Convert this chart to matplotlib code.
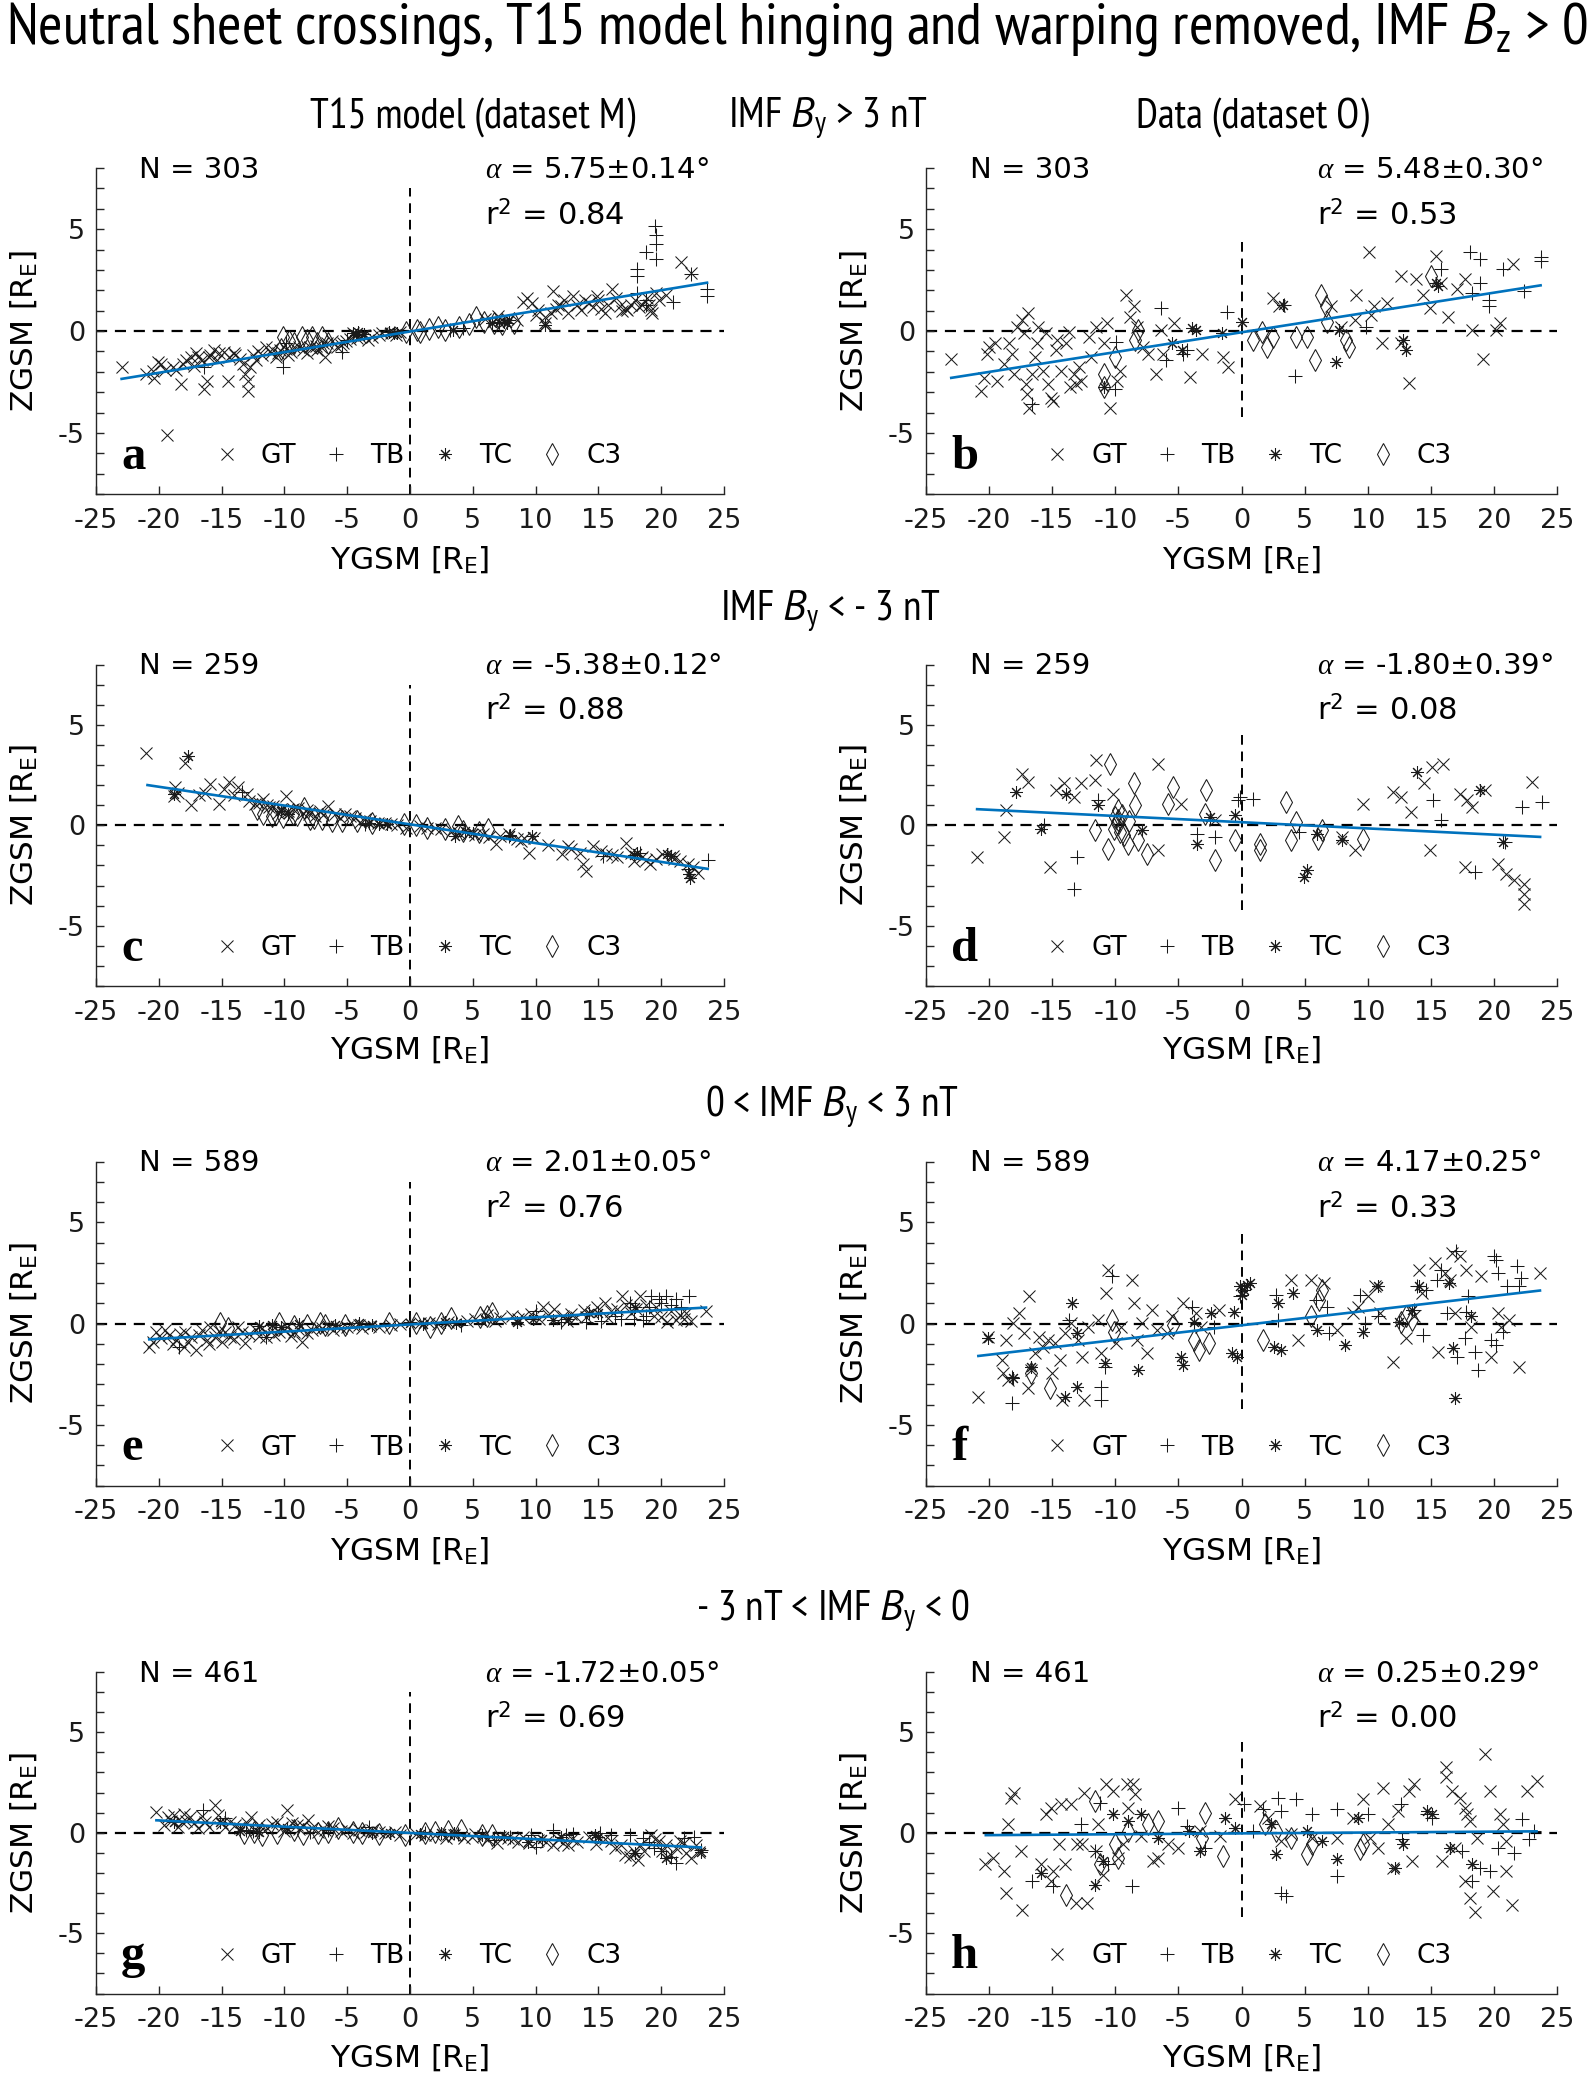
import matplotlib
matplotlib.use("Agg")
import matplotlib.pyplot as plt
from matplotlib import font_manager
from matplotlib.lines import Line2D

# puntos (YGSM, ZGSM), por panel y por mision
A_GT = [(-22.96, -1.77), (-21.0, -2.1), (-20.5, -1.94), (-20.4, -2.3), (-20.1, -1.5), (-19.8, -1.6),
        (-19.36, -5.09), (-19.5, -1.9), (-18.9, -1.77), (-18.6, -1.9), (-18.25, -2.6), (-18.05, -1.6),
        (-17.8, -1.4), (-17.44, -1.28), (-17.2, -1.7), (-17.0, -1.1), (-16.9, -1.3), (-16.6, -1.44),
        (-16.4, -2.85), (-16.2, -2.44), (-16.0, -1.28), (-15.9, -1.2), (-15.6, -0.95), (-15.4, -1.4),
        (-15.2, -1.1), (-14.8, -1.03), (-14.5, -2.47), (-14.4, -1.3), (-14.0, -1.1), (-13.9, -1.2),
        (-13.55, -1.36), (-13.3, -1.6), (-13.1, -2.1), (-12.9, -2.44), (-12.9, -2.94), (-12.7, -1.77),
        (-12.5, -1.2), (-12.3, -1.44), (-12.1, -1.0), (-11.8, -1.2), (-11.5, -0.78), (-11.1, -1.1),
        (-11.0, -0.9), (-10.7, -1.28), (-10.5, -1.1), (-10.35, -0.95), (-9.9, -0.9), (-9.7, -1.2),
        (-9.46, -1.03), (-9.2, -0.8), (-8.85, -0.78), (-8.5, -0.95), (-8.24, -1.1), (-8.0, -0.8),
        (-7.5, -0.75), (-7.4, -0.95), (-7.1, -0.8), (-6.9, -0.6), (-6.8, -1.28), (-6.6, -0.61),
        (-6.2, -0.5), (-5.8, -0.78), (-5.5, -0.7), (-5.3, -0.6), (-5.1, -0.5), (-4.8, -0.4),
        (-4.56, -0.12), (-4.2, -0.35), (-3.95, -0.28), (-3.7, -0.2), (-3.33, -0.45), (-3.0, -0.3),
        (-2.5, -0.2), (-2.2, -0.1), (-1.5, -0.12), (-1.1, -0.2), (-0.8, -0.05), (6.0, 0.6), (7.0, 0.75),
        (8.5, 0.55), (9.0, 1.4), (9.34, 1.63), (9.75, 1.38), (10.0, 0.8), (10.2, 1.04), (10.77, 0.71),
        (10.77, 0.38), (11.2, 0.9), (11.4, 1.96), (11.6, 1.1), (11.8, 1.3), (12.0, 1.21), (12.3, 1.5),
        (12.6, 0.88), (13.0, 1.71), (13.3, 1.3), (13.6, 1.04), (13.9, 1.5), (14.25, 1.38), (14.6, 1.2),
        (14.86, 1.71), (15.0, 1.5), (15.2, 1.1), (15.5, 0.88), (15.8, 1.3), (16.1, 2.04), (16.4, 1.6),
        (16.7, 1.21), (16.9, 1.0), (17.2, 1.1), (17.3, 1.04), (17.6, 1.3), (17.9, 1.54), (18.2, 1.2),
        (18.5, 1.29), (18.9, 1.6), (19.0, 1.3), (19.15, 1.04), (19.3, 0.9), (19.56, 1.87), (19.8, 1.5),
        (20.4, 1.79), (21.6, 3.37), (22.4, 2.87)]
A_TB = [(-16.4, -1.77), (-10.1, -1.77), (-9.87, -0.61), (-5.4, -1.03), (-5.0, -0.45), (3.2, 0.05),
        (4.23, 0.13), (19.5, 5.16), (19.56, 4.69), (19.56, 4.28), (18.8, 3.86), (19.56, 3.53), (18.1, 3.03),
        (18.1, 2.7), (22.4, 2.79), (23.65, 2.04), (23.65, 1.71), (20.9, 1.41), (18.8, 1.54), (18.8, 1.29),
        (18.1, 1.87)]
A_TC = [(-4.56, -0.12), (-4.3, -0.2), (-4.15, -0.03), (-3.7, -0.15), (-1.7, -0.03), (-1.3, -0.12),
        (-1.0, -0.1), (3.4, 0.05), (6.5, 0.4), (7.1, 0.46), (7.5, 0.46), (7.7, 0.4), (7.9, 0.55), (10.77, 0.3)]
A_C3 = [(-10.3, -0.9), (-10.1, -0.28), (-9.6, -0.5), (-9.26, -0.61), (-8.6, -0.3), (-8.24, -0.45),
        (-7.8, -0.28), (-7.4, -0.61), (-7.0, -0.3), (-6.5, -0.6), (-0.3, -0.05), (0.55, 0.05), (0.76, -0.03),
        (1.5, 0.1), (2.2, 0.22), (2.8, 0.05), (3.9, 0.2), (4.7, 0.35), (5.25, 0.71), (5.87, 0.46),
        (6.7, 0.38), (7.3, 0.35), (8.3, 0.38)]

B_GT = [(-23.0, -1.36), (-20.64, -2.94), (-20.4, -2.3), (-20.2, -1.11), (-20.0, -0.78), (-19.5, -0.61),
        (-19.4, -2.44), (-18.8, -1.61), (-18.4, -0.61), (-18.2, -1.11), (-18.0, -2.1), (-17.8, 0.22),
        (-17.4, 0.55), (-17.2, -0.12), (-17.05, -2.6), (-17.0, -3.1), (-16.9, 0.88), (-16.8, -3.76),
        (-16.6, -2.1), (-16.4, -1.28), (-16.2, -0.61), (-16.1, 0.22), (-15.75, -1.94), (-15.5, -0.12),
        (-15.3, -2.6), (-15.06, -3.27), (-14.9, -3.43), (-14.7, -0.95), (-14.6, -0.45), (-14.3, -1.94),
        (-13.9, -0.61), (-13.7, -0.03), (-13.6, -2.77), (-13.3, -2.1), (-13.1, -2.6), (-12.9, -1.77),
        (-12.7, -2.44), (-12.1, -0.28), (-11.9, -1.28), (-11.5, 0.22), (-10.9, -0.61), (-10.65, 0.38),
        (-10.45, -3.76), (-9.84, -2.44), (-9.6, -1.94), (-9.15, 1.79), (-8.8, 0.71), (-8.5, 1.21),
        (-8.3, 0.22), (-7.8, -0.78), (-7.4, -1.11), (-6.8, -2.1), (-6.4, 0.05), (-6.2, -1.11),
        (-5.36, 0.38), (-4.1, -2.27), (-3.1, -1.11), (-1.5, -1.28), (-1.08, -1.77), (2.5, 1.63), (3.0, 1.21),
        (7.1, 1.21), (7.9, 0.22), (9.0, 0.55), (9.1, 1.79), (10.1, 3.9), (10.3, 0.8), (10.5, 1.21),
        (11.1, -0.61), (11.55, 1.38), (12.6, 2.7), (12.6, -0.61), (13.3, -2.57), (13.8, 2.54), (14.4, 1.79),
        (14.9, 1.13), (15.4, 3.7), (15.8, 2.37), (16.4, 0.71), (17.05, 2.04), (17.7, 2.54), (18.3, 0.05),
        (19.1, -1.36), (20.2, 0.05), (20.5, 0.38), (21.5, 3.28)]
B_TB = [(-16.6, -3.6), (-10.05, -2.85), (-9.96, -0.53), (-6.4, 1.13), (-6.0, -1.44), (-4.6, -1.11),
        (-4.3, -0.95), (-1.16, 0.91), (3.4, 1.29), (4.22, -2.19), (9.84, 0.22), (15.83, 3.03), (18.1, 3.86),
        (18.9, 3.53), (18.3, 1.87), (18.9, 2.37), (19.6, 1.54), (19.6, 1.21), (20.7, 3.03), (22.35, 1.96),
        (23.7, 3.62), (23.7, 3.45)]
B_TC = [(-10.86, -2.77), (-5.5, -0.61), (-4.75, -0.95), (-3.93, 0.13), (-3.6, 0.05), (-1.57, -0.12),
        (0.06, 0.46), (3.3, 1.29), (7.5, -1.53), (7.7, 0.05), (12.8, -0.45), (13.0, -0.95), (15.4, 2.37),
        (15.6, 2.2)]
B_C3 = [(-10.9, -2.1), (-10.9, -2.77), (-10.0, -1.28), (-8.4, -0.45), (-8.2, 0.05), (0.9, -0.45),
        (1.6, -0.03), (2.0, -0.78), (2.5, -0.28), (4.3, -0.28), (5.2, -0.28), (5.85, -1.44), (6.3, 1.79),
        (6.66, 1.21), (6.74, 0.46), (8.3, -0.45), (8.5, -0.78), (15.0, 2.7)]

C_GT = [(-21.0, 3.58), (-18.76, 1.47), (-18.7, 1.88), (-18.5, 1.6), (-17.94, 3.08), (-17.4, 1.02),
        (-16.8, 1.52), (-16.3, 1.6), (-15.9, 2.05), (-15.2, 1.05), (-14.8, 1.8), (-14.4, 2.13), (-14.0, 1.5),
        (-13.7, 1.88), (-13.0, 1.55), (-12.8, 1.2), (-12.35, 1.05), (-12.0, 1.1), (-11.7, 1.3), (-11.4, 1.0),
        (-11.2, 0.9), (-10.9, 0.97), (-10.5, 0.6), (-10.3, 0.8), (-9.9, 1.47), (-9.7, 0.72), (-9.3, 0.8),
        (-8.9, 0.88), (-8.5, 0.6), (-8.2, 0.75), (-8.06, 0.55), (-7.6, 0.45), (-7.2, 0.72), (-6.9, 0.5),
        (-6.55, 0.97), (-6.0, 0.55), (-5.6, 0.35), (-5.2, 0.55), (-4.8, 0.45), (-4.4, 0.38), (-4.0, 0.15),
        (-3.6, 0.3), (-3.2, 0.2), (-2.55, 0.13), (-2.0, 0.1), (-1.5, 0.05), (-1.0, 0.0), (-0.3, -0.12),
        (0.8, -0.05), (1.33, -0.12), (2.0, -0.15), (2.5, -0.2), (3.37, -0.28), (3.9, -0.4), (4.6, -0.45),
        (5.2, -0.5), (5.8, -0.45), (6.3, -0.6), (6.84, -0.95), (7.2, -0.55), (7.86, -0.45), (8.5, -0.7),
        (8.8, -0.8), (9.1, -0.62), (9.5, -1.37), (9.9, -0.62), (11.0, -1.0), (12.14, -1.45), (12.55, -1.03),
        (12.8, -1.2), (13.5, -1.4), (13.78, -1.95), (14.0, -2.28), (14.6, -1.03), (15.2, -1.3),
        (15.6, -1.45), (16.1, -1.5), (16.5, -1.6), (17.16, -0.87), (17.6, -1.4), (17.86, -1.78),
        (18.5, -1.6), (18.8, -1.75), (19.1, -1.95), (19.6, -1.7), (20.1, -1.45), (20.9, -1.53),
        (21.0, -1.7), (21.5, -1.8), (22.1, -1.95), (22.5, -2.1), (22.9, -2.37)]
C_TB = [(-13.37, 1.63), (-3.6, 0.05), (7.86, -0.53), (15.4, -1.53), (18.3, -1.37), (22.1, -2.2),
        (23.7, -1.75)]
C_TC = [(-17.65, 3.47), (-18.76, 1.55), (-10.3, 0.72), (-9.7, 0.55), (-3.3, 0.1), (-2.5, 0.05),
        (-1.8, 0.05), (3.57, -0.53), (4.4, -0.28), (5.0, -0.37), (8.0, -0.5), (9.7, -0.55), (17.8, -1.5),
        (18.1, -1.37), (20.5, -1.45), (20.8, -1.55), (22.2, -2.45), (22.3, -2.62)]
C_C3 = [(-12.2, 0.8), (-11.7, 0.55), (-11.0, 0.45), (-10.7, 0.55), (-10.1, 0.4), (-9.3, 0.55),
        (-9.0, 0.5), (-8.47, 0.88), (-8.0, 0.3), (-7.65, 0.38), (-7.0, 0.3), (-6.2, 0.22), (-5.4, 0.22),
        (-4.2, 0.2), (-3.0, 0.1), (-0.5, 0.05), (0.5, 0.02), (1.33, -0.12), (2.8, -0.2), (3.8, -0.03),
        (4.2, -0.3), (5.5, -0.35), (6.2, -0.2)]

D_GT = [(-20.95, -1.58), (-18.8, -0.58), (-18.7, 0.75), (-17.4, 2.57), (-16.9, 2.16), (-15.2, -2.08),
        (-14.7, 1.74), (-14.1, 2.08), (-13.3, 1.41), (-12.7, 2.08), (-11.6, 2.24), (-11.5, 3.24),
        (-10.2, 1.58), (-6.6, 3.07), (-6.6, -1.25), (-4.76, 1.08), (-2.1, 0.25), (8.0, -0.58),
        (9.0, -1.25), (9.6, 1.08), (12.0, 1.66), (12.65, 1.41), (13.46, 0.66), (14.5, 2.08), (14.9, -1.25),
        (15.1, 2.9), (16.0, 3.07), (17.3, 1.58), (17.7, -2.08), (17.9, 1.25), (18.3, 0.91), (19.3, 1.74),
        (20.3, -1.91), (20.95, -2.41), (21.6, -2.74), (22.4, -2.9), (22.4, -3.4), (22.4, -3.9), (23.0, 2.16)]
D_TB = [(-15.65, 0.0), (-13.26, -3.16), (-13.06, -1.58), (-11.4, 1.25), (-3.5, -0.42), (-2.1, -0.58),
        (-0.3, 1.25), (-0.1, 1.41), (0.9, 1.33), (4.55, -0.33), (15.2, 1.25), (15.8, 0.25), (18.5, -2.33),
        (20.9, -0.83), (22.2, 0.91), (23.8, 1.16)]
D_TC = [(-17.9, 1.66), (-15.9, -0.17), (-13.87, 1.58), (-11.4, 1.0), (-7.9, -0.25), (-3.5, -0.91),
        (-2.5, 0.42), (-0.5, 0.5), (4.96, -2.57), (5.16, -2.24), (6.0, -0.42), (8.0, -0.75), (13.9, 2.66),
        (18.9, 1.74), (20.7, -0.83)]
D_C3 = [(-11.6, -0.25), (-10.6, -1.16), (-10.4, 3.07), (-10.1, -0.2), (-10.0, 0.4), (-9.9, 0.1),
        (-9.8, 0.75), (-9.8, 0.25), (-9.6, -0.33), (-9.5, 0.5), (-9.3, -0.5), (-9.0, -0.91), (-8.9, 0.2),
        (-8.5, 2.08), (-8.4, 1.0), (-8.2, -0.75), (-7.5, -1.41), (-5.85, 1.08), (-5.45, 1.91), (-2.9, 0.58),
        (-2.85, 1.74), (-2.1, -1.74), (-0.5, -0.75), (1.44, -0.91), (1.44, -1.25), (3.5, 1.16),
        (3.95, -0.75), (4.35, 0.17), (6.05, -0.66), (6.4, -0.25), (9.6, -0.66)]

E_GT = [(-20.76, -1.17), (-20.5, -0.9), (-20.2, -0.4), (-19.8, -0.7), (-19.5, -0.3), (-19.2, -0.56),
        (-18.9, -1.0), (-18.6, -0.81), (-18.3, -0.5), (-18.0, -1.14), (-17.9, -0.4), (-17.7, -0.9),
        (-17.4, -0.64), (-17.0, -1.3), (-16.8, -0.55), (-16.55, -0.31), (-16.2, -0.8), (-16.0, -1.0),
        (-15.9, -0.15), (-15.5, -0.64), (-15.2, -0.35), (-15.0, -0.9), (-14.7, -0.4), (-14.3, -0.64),
        (-14.0, -0.75), (-13.7, -0.15), (-13.4, -0.4), (-13.1, -0.97), (-12.8, -0.5), (-12.3, -0.31),
        (-12.0, -0.6), (-11.8, -0.2), (-11.45, -0.64), (-11.0, -0.3), (-10.8, -0.55), (-10.4, -0.4),
        (-10.0, -0.3), (-9.8, -0.15), (-9.5, -0.6), (-9.2, -0.4), (-8.9, -0.25), (-8.6, -0.89),
        (-8.2, -0.48), (-7.8, -0.3), (-7.4, -0.15), (-7.0, -0.2), (-6.5, -0.1), (-6.1, -0.31), (-5.5, -0.2),
        (-5.0, -0.15), (-4.5, -0.05), (-4.1, -0.07), (-3.8, -0.2), (-3.2, -0.1), (-2.5, -0.15),
        (-1.5, -0.05), (-0.8, 0.0), (0.8, 0.05), (1.5, 0.05), (2.2, 0.0), (3.0, 0.1), (4.5, 0.15),
        (5.2, 0.2), (6.1, 0.43), (6.8, 0.15), (7.2, 0.25), (8.1, 0.35), (8.6, 0.2), (9.0, 0.3), (9.6, 0.45),
        (10.3, 0.2), (10.6, 0.84), (11.0, 0.4), (11.5, 0.7), (12.2, 0.35), (12.5, 0.15), (12.8, 0.45),
        (13.2, 0.3), (13.86, 0.68), (14.0, 0.3), (14.5, 0.55), (14.9, 0.8), (15.5, 1.0), (15.8, 0.25),
        (16.0, 0.6), (16.5, 0.7), (16.9, 1.34), (17.2, 0.9), (17.6, 0.5), (18.0, 0.7), (18.35, 1.34),
        (18.8, 0.9), (19.4, 0.35), (19.6, 0.8), (20.0, 0.3), (20.5, 0.1), (20.8, 0.6), (21.2, 0.18),
        (21.5, 0.4), (21.8, 0.2), (22.0, 0.51), (22.4, 0.15), (23.57, 0.64)]
E_TB = [(-18.4, -1.14), (-11.45, -0.64), (-0.02, 0.1), (4.06, -0.07), (10.0, 0.6), (12.0, 0.1),
        (14.0, 0.1), (15.2, 0.15), (16.3, 0.35), (16.8, 0.2), (17.5, 1.0), (17.8, 0.2), (18.55, 0.18),
        (18.8, 0.35), (19.0, 0.8), (19.2, 1.34), (19.8, 1.2), (20.0, 1.0), (20.4, 1.34), (20.8, 0.9),
        (21.2, 1.2), (21.6, 0.84), (22.2, 1.34)]
E_TC = [(-12.0, -0.1), (-11.0, -0.07), (-10.3, -0.15), (-8.8, 0.0), (-6.0, -0.05), (-4.1, 0.02),
        (-3.0, -0.05), (-0.02, 0.05), (1.0, 0.0), (2.8, 0.1), (3.65, 0.02), (6.0, 0.2), (8.55, 0.1),
        (9.8, 0.2), (11.4, 0.18), (12.6, 0.2), (14.27, 0.51), (15.0, 0.5), (17.9, 0.84)]
E_C3 = [(-15.1, 0.02), (-14.5, -0.2), (-10.4, 0.02), (-9.2, -0.1), (-8.2, -0.07), (-7.2, 0.02),
        (-6.8, -0.05), (-5.2, -0.05), (-1.65, 0.02), (0.5, 0.02), (1.6, -0.15), (2.5, 0.05), (3.25, 0.26),
        (5.6, 0.3), (6.1, 0.35), (6.5, 0.51)]

F_GT = [(-20.85, -3.61), (-20.1, -0.64), (-18.97, -1.8), (-18.9, -2.46), (-18.7, -0.81), (-18.5, -2.79),
        (-18.1, 0.02), (-17.6, 0.51), (-17.26, -0.48), (-16.9, -3.2), (-16.8, 1.37), (-16.65, -2.29),
        (-16.4, -1.47), (-16.05, -0.64), (-15.7, -1.14), (-15.3, -0.81), (-15.0, -2.46), (-14.8, -0.97),
        (-14.4, -1.8), (-14.2, -3.78), (-14.0, -0.48), (-13.5, 0.02), (-12.98, -0.81), (-12.6, -1.63),
        (-12.46, -3.78), (-12.17, -0.15), (-11.36, 0.18), (-11.16, -1.47), (-10.75, 1.5), (-10.55, 2.66),
        (-9.94, -0.97), (-9.53, -0.15), (-8.7, 2.16), (-8.5, 1.0), (-8.3, -0.81), (-7.9, 0.02),
        (-7.5, -1.47), (-7.1, 0.68), (-6.7, -0.31), (-5.9, -0.48), (-5.5, 0.35), (-4.6, 1.0), (-3.6, 0.51),
        (-3.2, -0.15), (-1.8, 0.68), (3.9, 2.16), (4.5, -0.81), (5.5, 2.16), (6.56, 2.0), (7.57, -0.31),
        (8.8, 0.51), (9.2, 0.84), (10.0, 1.34), (10.6, 1.83), (11.0, 0.51), (11.97, -1.88), (13.07, -0.73),
        (13.7, 0.35), (14.1, 2.66), (14.3, 1.5), (15.3, 2.99), (15.6, -1.39), (16.1, 2.5), (16.5, 2.16),
        (16.7, 3.48), (16.9, 0.51), (17.3, 3.32), (17.75, 2.66), (18.2, -0.15), (18.97, 2.33),
        (19.8, -1.63), (20.3, 0.51), (20.6, -0.15), (21.2, 0.18), (22.0, -2.13), (23.65, 2.5)]
F_TB = [(-18.16, -2.62), (-18.16, -3.94), (-13.7, 0.18), (-11.16, -3.12), (-11.16, -3.78),
        (-10.84, -2.13), (-10.26, 2.33), (-3.9, 0.84), (-2.2, -0.15), (-0.08, 1.34), (2.77, 1.42),
        (2.9, 0.18), (5.9, 1.17), (6.76, 0.84), (6.96, -0.48), (9.4, 1.42), (9.8, 0.02), (10.83, 0.35),
        (13.7, 0.68), (13.9, 1.83), (14.4, -0.56), (14.6, 1.67), (15.5, 2.16), (15.8, 2.66), (16.3, 0.51),
        (17.0, 3.56), (17.1, -1.63), (17.7, -0.73), (17.8, 0.59), (17.95, 1.34), (18.5, -1.39),
        (18.77, -2.29), (19.8, -0.81), (20.0, 3.32), (20.2, 3.15), (20.2, -1.06), (20.3, 2.5), (20.7, -0.4),
        (21.0, 1.83), (21.8, 2.82), (22.0, 1.83), (22.15, 2.24)]
F_TC = [(-20.1, -0.73), (-18.1, -2.71), (-16.65, -2.13), (-14.0, -3.61), (-13.4, 1.0), (-13.0, -0.48),
        (-13.0, -3.12), (-10.84, -1.96), (-8.2, -2.29), (-4.8, -1.63), (-4.6, -2.05), (-3.8, 0.1),
        (-2.4, 0.51), (-0.77, -1.47), (-0.57, 0.59), (-0.37, -1.63), (-0.08, 1.83), (0.04, 1.42),
        (0.16, 1.67), (0.45, 1.91), (0.65, 1.99), (2.6, -1.14), (2.9, 1.0), (3.1, -1.3), (4.1, 1.5),
        (6.0, -0.31), (8.2, -1.06), (9.6, -0.4), (10.83, 1.83), (12.5, 0.1), (13.5, 0.68), (14.1, 1.83),
        (16.45, 2.0), (16.73, -1.22), (16.9, -3.7), (18.2, 0.35)]
F_C3 = [(-16.65, -2.46), (-15.2, -3.2), (-10.3, 0.18), (-10.1, -0.4), (-5.45, -0.07), (-3.8, -0.81),
        (-3.4, -1.3), (-2.6, -0.97), (1.67, -0.81), (5.5, 0.35), (6.15, 1.17), (6.35, 1.67), (12.66, 0.1),
        (13.07, 0.35), (13.5, 0.18)]

G_GT = [(-20.2, 1.05), (-19.58, 0.38), (-19.3, 0.8), (-19.0, 0.6), (-18.76, 0.88), (-18.5, 0.3),
        (-18.15, 0.55), (-18.0, 0.95), (-17.8, 0.6), (-17.54, 0.8), (-17.2, 0.5), (-16.9, 0.22),
        (-16.6, 0.85), (-16.3, 0.55), (-16.0, 0.3), (-15.5, 1.38), (-15.3, 0.9), (-15.0, 0.5), (-14.7, 0.3),
        (-14.3, 0.55), (-13.9, 0.38), (-13.5, 0.25), (-13.0, 0.5), (-12.65, 0.8), (-12.3, 0.15),
        (-12.0, 0.4), (-11.4, 0.22), (-11.0, 0.45), (-10.6, 0.55), (-10.2, 0.3), (-10.0, 0.1), (-9.8, 1.13),
        (-9.4, 0.5), (-9.0, 0.38), (-8.8, 0.2), (-8.5, 0.35), (-8.16, 0.63), (-7.8, 0.25), (-7.3, 0.05),
        (-6.8, 0.15), (-6.5, 0.35), (-6.1, 0.22), (-5.5, 0.1), (-5.0, 0.2), (-4.5, 0.0), (-4.1, 0.13),
        (-3.5, 0.05), (-3.0, 0.15), (-2.45, 0.05), (-2.0, 0.0), (-1.2, 0.05), (-0.8, -0.12), (0.5, -0.05),
        (1.2, -0.12), (2.0, -0.1), (2.85, -0.28), (3.0, -0.05), (3.5, -0.1), (4.3, -0.25), (4.9, -0.2),
        (5.2, -0.05), (5.8, -0.15), (6.2, -0.3), (6.9, -0.53), (7.2, -0.2), (7.8, -0.25), (8.2, -0.3),
        (8.56, -0.45), (9.0, -0.2), (9.5, -0.5), (10.2, -0.37), (10.8, -0.45), (11.4, -0.62), (11.8, -0.3),
        (12.2, -0.5), (12.6, -0.62), (12.9, -0.3), (13.3, -0.45), (14.27, -0.2), (14.8, -0.55),
        (15.5, -0.3), (16.0, -0.4), (16.3, -0.78), (16.8, -0.6), (17.1, -1.12), (17.5, -1.2), (17.8, -0.9),
        (18.15, -1.37), (18.35, -0.62), (18.6, -0.9), (19.17, -0.12), (19.5, -0.3), (19.8, -0.4),
        (20.1, -0.9), (20.4, -0.62), (20.8, -1.1), (21.2, -0.78), (21.5, -0.4), (21.8, -0.5), (22.0, -1.0),
        (22.4, -1.28), (22.8, -0.6), (23.0, -0.95)]
G_TB = [(-16.5, 1.13), (-14.7, 0.72), (-13.05, 0.13), (-12.5, 0.1), (-8.0, 0.05), (-6.5, 0.15),
        (-3.26, 0.3), (1.2, -0.03), (3.8, -0.05), (6.7, -0.37), (8.0, -0.2), (9.6, -0.1), (10.0, -0.7),
        (11.4, 0.13), (12.4, -0.12), (13.0, -0.05), (15.1, -0.03), (16.0, -0.1), (17.5, -0.12),
        (18.55, -0.28), (19.0, -0.45), (19.4, -0.78), (20.0, -0.9), (20.8, -1.2), (21.2, -1.53),
        (21.8, -0.28), (22.6, -0.2), (23.2, -0.87)]
G_TC = [(-18.76, 0.55), (-15.1, 0.55), (-13.5, 0.1), (-12.0, 0.05), (-9.8, 0.22), (-3.0, 0.0),
        (-1.6, -0.03), (0.8, -0.05), (2.45, -0.03), (3.5, 0.0), (5.7, -0.12), (7.5, -0.15), (9.4, -0.45),
        (10.5, -0.3), (12.0, -0.2), (14.7, -0.12), (15.0, -0.2), (17.9, -1.03), (20.4, -1.28), (23.2, -0.95)]
G_C3 = [(-13.2, 0.0), (-12.4, 0.05), (-11.8, -0.12), (-10.6, -0.03), (-9.2, 0.13), (-8.5, -0.05),
        (-7.3, -0.03), (-6.5, 0.05), (-5.7, 0.22), (-4.5, 0.05), (-3.8, 0.0), (-2.5, -0.05), (-0.4, -0.12),
        (1.2, 0.0), (2.0, 0.05), (3.0, 0.1), (4.08, 0.13), (5.7, -0.12), (6.5, -0.1)]

H_GT = [(-20.3, -1.58), (-19.7, -1.25), (-18.8, -1.92), (-18.7, -3.0), (-18.5, 0.42), (-18.3, 1.75),
        (-18.0, 2.0), (-17.5, -0.92), (-17.4, -3.83), (-15.9, -1.58), (-15.5, 0.92), (-15.1, 1.25),
        (-15.1, -2.42), (-14.9, -1.92), (-14.5, -0.58), (-14.3, 1.42), (-13.95, -1.58), (-13.5, 1.42),
        (-13.1, -3.5), (-13.06, -0.58), (-12.65, -0.58), (-12.45, 2.0), (-12.25, -3.5), (-11.5, -0.92),
        (-11.4, 0.42), (-11.0, -2.08), (-10.7, 2.42), (-10.2, 2.08), (-9.8, -1.25), (-9.4, -0.58),
        (-9.1, 2.42), (-9.0, 1.25), (-8.6, 2.42), (-8.4, 1.92), (-8.0, -0.17), (-7.0, -1.42),
        (-6.6, -1.25), (-5.8, -0.58), (-5.0, -0.75), (-3.3, 0.08), (-1.7, -0.17), (-0.5, 1.67), (1.5, 1.33),
        (2.1, 0.75), (3.1, -0.42), (3.9, -0.08), (5.6, -0.25), (7.6, -0.25), (8.8, 0.75), (9.6, 1.67),
        (10.2, -0.25), (10.8, -0.75), (11.2, 2.25), (11.6, 0.42), (12.0, -1.75), (12.4, 1.08), (13.3, 2.08),
        (13.5, -1.42), (13.7, 2.42), (15.9, -1.42), (16.2, 3.25), (16.2, 2.75), (16.7, 2.08), (16.9, -0.75),
        (17.3, 1.75), (17.7, 1.25), (17.7, -2.42), (17.9, 0.92), (18.1, 0.58), (18.1, -3.25), (18.5, -3.92),
        (18.7, -0.25), (19.3, 3.92), (19.7, 2.08), (19.9, -2.92), (20.5, 0.92), (20.75, 0.42),
        (20.95, -1.92), (20.95, -0.42), (21.4, -3.58), (22.6, 2.08), (23.4, 2.58)]
H_TB = [(-16.6, -2.42), (-14.9, -2.67), (-12.7, 0.42), (-11.6, -0.92), (-11.2, 1.5), (-10.6, -1.58),
        (-8.7, -2.67), (-5.0, 1.25), (-4.35, 0.33), (-2.9, -0.75), (0.2, 1.42), (0.9, 0.08), (1.7, 1.17),
        (2.9, 1.75), (3.1, 1.08), (3.1, -3.0), (3.5, -3.17), (4.35, 1.67), (5.6, 0.92), (7.6, -2.17),
        (7.6, 1.17), (10.0, 0.92), (12.6, 1.42), (12.75, -0.33), (14.7, 0.92), (15.1, 0.75), (17.5, -0.92),
        (18.3, -2.42), (18.9, -1.75), (19.7, -1.92), (20.3, -0.75), (21.6, -1.0), (22.2, 0.67),
        (22.8, -0.33), (23.2, 0.08)]
H_TC = [(-15.9, -2.0), (-11.6, -2.58), (-11.0, -1.42), (-10.2, 0.92), (-9.0, 0.58), (-8.0, 0.92),
        (-6.6, -0.25), (-4.15, 0.08), (-3.3, -0.92), (-1.3, 0.75), (-0.5, 0.25), (2.3, 0.42), (2.7, -1.08),
        (5.2, 0.08), (6.4, -0.42), (7.6, -1.33), (9.2, 0.75), (12.2, -1.75), (12.8, -0.58), (14.7, 1.08),
        (15.1, 0.92), (16.5, -0.75), (18.3, -1.58)]
H_C3 = [(-13.9, -3.08), (-11.6, 1.58), (-11.2, -1.58), (-10.0, -0.58), (-9.8, -1.25), (-9.0, 0.08),
        (-7.4, 0.42), (-6.6, 0.58), (-3.1, -0.25), (-2.9, 1.0), (-1.5, -1.17), (1.9, 0.42), (2.7, 0.08),
        (3.9, -0.25), (5.2, -1.08), (5.6, -0.58), (9.4, -0.83), (9.6, -0.58)]

# extremos de las rectas de ajuste (azules)
FIT_A = [(-22.96, -2.35), (23.65, 2.37)]
FIT_B = [(-23.0, -2.3), (23.7, 2.24)]
FIT_C = [(-20.9, 2.0), (23.7, -2.17)]
FIT_D = [(-20.95, 0.8), (23.66, -0.58)]
FIT_E = [(-20.76, -0.78), (23.57, 0.79)]
FIT_F = [(-20.85, -1.6), (23.65, 1.63)]
FIT_G = [(-20.19, 0.62), (23.16, -0.73)]
FIT_H = [(-20.26, -0.12), (23.38, 0.07)]

N_PUNTOS = [303, 303, 259, 259, 589, 589, 461, 461]
ALFAS = ["5.75±0.14", "5.48±0.30", "-5.38±0.12", "-1.80±0.39",
         "2.01±0.05", "4.17±0.25", "-1.72±0.05", "0.25±0.29"]
R2 = ["0.84", "0.53", "0.88", "0.08", "0.76", "0.33", "0.69", "0.00"]
LETRAS = ["a", "b", "c", "d", "e", "f", "g", "h"]
MISIONES = ["GT", "TB", "TC", "C3"]

# tramo vertical discontinuo en YGSM = 0
VLINEA_MODELO = [-8, 7]
VLINEA_DATOS = [-4.2, 4.5]

X_TICKS = [-25, -20, -15, -10, -5, 0, 5, 10, 15, 20, 25]
Y_TICKS = [-5, 0, 5]

TITULO = "Neutral sheet crossings, T15 model hinging and warping removed, IMF $\\mathbf{B}_{\\mathsf{z}}$ > 0"
CABECERAS = ["IMF $\\mathbf{B}_{\\mathsf{y}}$ > 3 nT", "IMF $\\mathbf{B}_{\\mathsf{y}}$ < - 3 nT",
             "0 < IMF $\\mathbf{B}_{\\mathsf{y}}$ < 3 nT", "- 3 nT < IMF $\\mathbf{B}_{\\mathsf{y}}$ < 0"]

# fuentes: una sans angosta parecida a Myriad Condensed para titulos
PREFERIDAS = ["PT Sans Narrow", "Fira Sans Condensed", "Roboto Condensed", "Liberation Sans Narrow",
              "Archivo Narrow", "Asap Condensed"]
PREFERIDAS_IT = ["PT Sans", "Roboto Condensed", "Fira Sans Condensed", "Open Sans", "Liberation Sans"]
fuentes = font_manager.fontManager.ttflist
regulares = {f.name for f in fuentes if f.style == "normal" and str(f.weight) in ("400", "normal", "regular")}
italicas = {f.name for f in fuentes if f.style == "italic"}
ANGOSTA = next((n for n in PREFERIDAS if n in regulares), "Liberation Sans")
ANGOSTA_IT = next((n for n in PREFERIDAS_IT if n in italicas), "DejaVu Sans")
SERIF = "Liberation Serif" if "Liberation Serif" in regulares else "DejaVu Serif"

plt.rcParams["font.family"] = ["DejaVu Sans"]
plt.rcParams["axes.unicode_minus"] = False
plt.rcParams["mathtext.fontset"] = "custom"
plt.rcParams["mathtext.rm"] = "DejaVu Sans"
plt.rcParams["mathtext.it"] = SERIF + ":italic"
plt.rcParams["mathtext.bf"] = ANGOSTA_IT + ":italic"
plt.rcParams["mathtext.sf"] = ANGOSTA

GRIS = "#262626"
AZUL = "#0072BD"
ESTILOS = {
    "GT": dict(marker="x", ms=9),
    "TB": dict(marker="+", ms=10.5),
    "TC": dict(marker=(8, 2, 0), ms=9),
    "C3": dict(marker="d", ms=11),
}

PANELES = [
    (A_GT, A_TB, A_TC, A_C3, FIT_A),
    (B_GT, B_TB, B_TC, B_C3, FIT_B),
    (C_GT, C_TB, C_TC, C_C3, FIT_C),
    (D_GT, D_TB, D_TC, D_C3, FIT_D),
    (E_GT, E_TB, E_TC, E_C3, FIT_E),
    (F_GT, F_TB, F_TC, F_C3, FIT_F),
    (G_GT, G_TB, G_TC, G_C3, FIT_G),
    (H_GT, H_TB, H_TC, H_C3, FIT_H),
]

W, H = 1594, 2089
fig = plt.figure(figsize=(W / 100, H / 100), dpi=100)

# posiciones de los ejes en pixeles (izq, der) y (arriba, abajo)
COLUMNAS = [(96, 724), (926, 1557)]
FILAS = [(168, 494), (664.5, 986), (1161.5, 1485.6), (1672, 1993.5)]


def dibujar_panel(ax, i):
    series = PANELES[i][:4]
    fit = PANELES[i][4]
    for nombre, puntos in zip(MISIONES, series):
        ys = [p[0] for p in puntos]
        zs = [p[1] for p in puntos]
        ax.plot(ys, zs, ls="none", color="0.1", mew=0.75, mfc="none", **ESTILOS[nombre])

    ax.axhline(0, color="k", lw=1.6, ls=(0, (5, 3.5)), zorder=1)
    tramo = VLINEA_MODELO if i % 2 == 0 else VLINEA_DATOS
    ax.plot([0, 0], tramo, color="k", lw=1.4, ls=(0, (5, 3.5)), zorder=1)
    ax.plot([p[0] for p in fit], [p[1] for p in fit], color=AZUL, lw=1.9, zorder=3)

    ax.set_xlim(-25, 25)
    ax.set_ylim(-8, 8)
    ax.set_xticks(X_TICKS)
    ax.set_yticks(Y_TICKS)
    ax.set_yticks(range(-8, 9), minor=True)
    ax.tick_params(which="both", direction="in", length=5.5, width=1, color=GRIS,
                   labelsize=19.5, labelcolor="#1a1a1a")
    ax.tick_params(axis="x", pad=10)
    ax.tick_params(axis="y", pad=8)
    for lado in ["top", "right"]:
        ax.spines[lado].set_visible(False)
    for lado in ["left", "bottom"]:
        ax.spines[lado].set_color(GRIS)
        ax.spines[lado].set_linewidth(1.0)

    ax.set_xlabel("YGSM [R$_{\\mathrm{E}}$]", fontsize=22.5, va="baseline")
    ax.xaxis.set_label_coords(0.5, -0.227)
    ax.set_ylabel("ZGSM [R$_{\\mathrm{E}}$]", fontsize=22.5, va="center", ha="center")
    ax.yaxis.set_label_coords(-0.115, 0.5)

    ax.text(0.165, 0.97, f"N = {N_PUNTOS[i]}", transform=ax.transAxes, fontsize=21,
            ha="center", va="baseline")
    ax.text(0.62, 0.97, f"$\\alpha$ = {ALFAS[i]}°", transform=ax.transAxes, fontsize=21,
            ha="left", va="baseline")
    ax.text(0.62, 0.825, f"r$^{{2}}$ = {R2[i]}", transform=ax.transAxes, fontsize=22,
            ha="left", va="baseline")
    ax.text(0.04, 0.078, LETRAS[i], transform=ax.transAxes, fontsize=35, family=SERIF,
            weight="bold", va="baseline", ha="left")

    manijas = [Line2D([], [], ls="none", color="0.1", mew=0.75, mfc="none", **ESTILOS[m])
               for m in MISIONES]
    ax.legend(manijas, MISIONES, ncol=4, loc="center left", bbox_to_anchor=(0.187, 0.117),
              frameon=False, fontsize=19, handlelength=1.0, handletextpad=0.79,
              columnspacing=1.02, borderpad=0, borderaxespad=0)


for i in range(8):
    fila, col = i // 2, i % 2
    izq, der = COLUMNAS[col]
    arriba, abajo = FILAS[fila]
    ax = fig.add_axes([izq / W, 1 - abajo / H, (der - izq) / W, (abajo - arriba) / H])
    dibujar_panel(ax, i)

renderer = fig.canvas.get_renderer()


def ajustar_ancho(texto, objetivo):
    ancho = texto.get_window_extent(renderer).width
    texto.set_fontsize(texto.get_fontsize() * objetivo / ancho)


titulo = fig.text(0.5, 1 - 29 / H, TITULO, family=ANGOSTA, fontsize=30, ha="center", va="center")
ajustar_ancho(titulo, 1582)

modelo = fig.text(473 / W, 1 - 118 / H, "T15 model (dataset M)", family=ANGOSTA, fontsize=26,
                  ha="center", va="center")
ajustar_ancho(modelo, 326)
tam = modelo.get_fontsize()
fig.text(1252 / W, 1 - 118 / H, "Data (dataset O)", family=ANGOSTA, fontsize=tam,
         ha="center", va="center")

for fila, (x, y) in enumerate([(828, 118), (830, 611), (832, 1107), (833, 1611)]):
    fig.text(x / W, 1 - y / H, CABECERAS[fila], family=ANGOSTA, fontsize=tam,
             ha="center", va="center")

fig.savefig("out.png", dpi=100)
